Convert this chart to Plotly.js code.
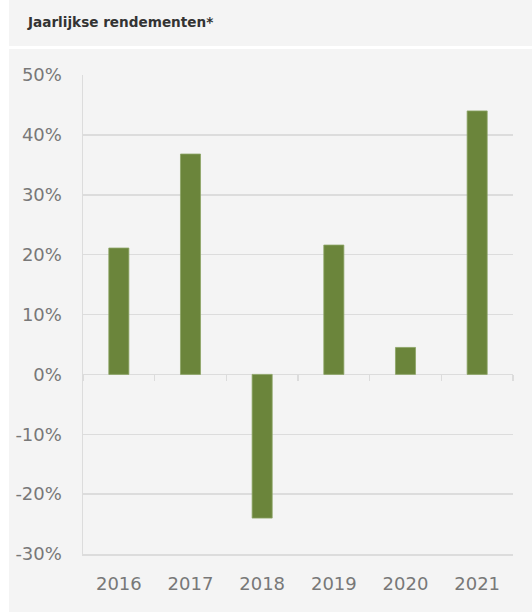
<!DOCTYPE html>
<html>
<head>
<meta charset="utf-8">
<script src="https://cdn.plot.ly/plotly-3.0.1.min.js"></script>
<style>
html,body{margin:0;padding:0;background:#ffffff;}
#chart{position:absolute;left:9px;top:0;width:523px;height:612px;}
</style>
</head>
<body>
<div id="chart"></div>
<script>
const titleText = "Jaarlijkse rendementen*";
const years = ["2016", "2017", "2018", "2019", "2020", "2021"];
const returns = [21.1, 36.8, -24.0, 21.6, 4.5, 44.0];
const yTicks = [-30, -20, -10, 0, 10, 20, 30, 40, 50];
const yTickLabels = ["-30%", "-20%", "-10%", "0%", "10%", "20%", "30%", "40%", "50%"];

const W = 523, H = 612;
const M = {l: 74, r: 19, t: 75, b: 58};
const plotH = H - M.t - M.b;
const py = p => (H - M.b - p) / plotH;   // pixel row -> paper y

const gridCol = "#dcdcdc";
const tickFont = {family: "DejaVu Sans, Verdana, sans-serif", size: 18, color: "#787878"};

const traces = [
  {
    type: "bar", x: years, y: returns, xaxis: "x", yaxis: "y",
    marker: {color: "#6b853b", line: {color: "#8da466", width: 0.8}},
    width: 0.28, hoverinfo: "skip"
  },
  {
    type: "scatter", mode: "markers", x: years, y: returns, xaxis: "x2", yaxis: "y",
    marker: {size: 0.1, opacity: 0}, hoverinfo: "skip", showlegend: false
  }
];

const layout = {
  width: W, height: H,
  margin: M,
  paper_bgcolor: "#f4f4f4",
  plot_bgcolor: "#f4f4f4",
  showlegend: false,
  title: {
    text: "<b>" + titleText + "</b>",
    font: {family: "DejaVu Sans, Verdana, sans-serif", size: 13.6, color: "#333333"},
    x: 19 / W, xanchor: "left", xref: "container",
    y: 1 - 22 / H, yanchor: "middle", yref: "container"
  },
  xaxis: {
    type: "category", categoryarray: years, categoryorder: "array",
    range: [-0.5, 5.5],
    anchor: "free", position: 30 / 80,
    showline: false, showgrid: false, zeroline: false,
    tickson: "boundaries", ticks: "outside", ticklen: 6, tickwidth: 1.5, tickcolor: gridCol,
    showticklabels: false, fixedrange: true
  },
  xaxis2: {
    type: "category", categoryarray: years, categoryorder: "array",
    overlaying: "x", matches: "x", anchor: "y", side: "bottom",
    range: [-0.5, 5.5],
    showline: true, linecolor: gridCol, linewidth: 1.5,
    showgrid: false, zeroline: false, ticks: "",
    tickfont: tickFont, ticklabelstandoff: 13, fixedrange: true
  },
  yaxis: {
    range: [-30, 50],
    tickmode: "array", tickvals: yTicks, ticktext: yTickLabels,
    showgrid: true, gridcolor: gridCol, gridwidth: 1.5,
    zeroline: true, zerolinecolor: gridCol, zerolinewidth: 1.5,
    showline: true, linecolor: gridCol, linewidth: 1.5,
    ticks: "", tickfont: tickFont, ticklabelstandoff: 16, fixedrange: true
  },
  shapes: [
    {type: "line", xref: "paper", yref: "paper",
     x0: -0.3, x1: 1.2, y0: py(47.5), y1: py(47.5),
     line: {color: "#ffffff", width: 3}, layer: "below"}
  ]
};

Plotly.newPlot("chart", traces, layout, {displayModeBar: false, staticPlot: true});
</script>
</body>
</html>
